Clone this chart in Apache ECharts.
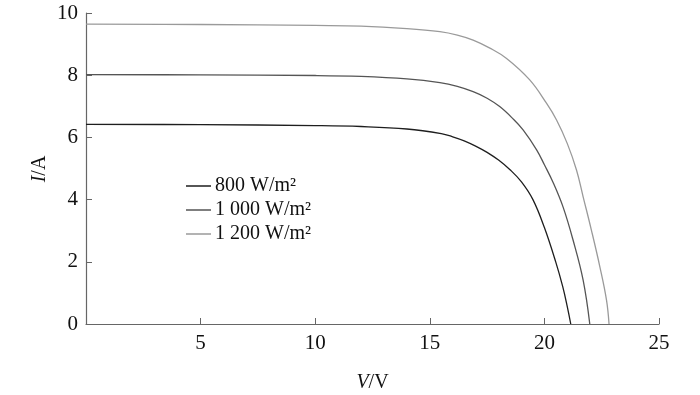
<!DOCTYPE html>
<html>
<head>
<meta charset="utf-8">
<script src="https://cdn.jsdelivr.net/npm/echarts@6/dist/echarts.min.js"></script>
<style>html,body{margin:0;padding:0;background:#fff}#c{width:700px;height:395px}</style>
</head>
<body>
<div id="c"></div>
<script>
var seriesNames = ['800 W/m²', '1 000 W/m²', '1 200 W/m²'];
var v800 = [0, 5, 10, 12, 14, 15.5, 16.0, 16.5, 17.0, 17.5, 18.0, 18.5, 19.0, 19.5, 20.0, 20.5, 20.8, 21.0, 21.15];
var i800 = [6.42, 6.41, 6.38, 6.35, 6.27, 6.12, 6.02, 5.89, 5.72, 5.52, 5.27, 4.96, 4.57, 4.0, 3.1, 1.98, 1.2, 0.55, 0];
var v1000 = [0, 5, 10, 12, 14, 15.44, 16.2, 16.89, 17.5, 18.05, 18.6, 19.07, 19.66, 20.0, 20.38, 20.82, 21.25, 21.69, 21.98];
var i1000 = [8.02, 8.01, 7.99, 7.96, 7.88, 7.76, 7.64, 7.47, 7.26, 6.99, 6.62, 6.24, 5.6, 5.12, 4.55, 3.75, 2.7, 1.41, 0];
var v1200 = [0, 5, 10, 12, 14, 15.44, 16.2, 16.89, 17.6, 18.35, 19.36, 20.09, 20.53, 21.0, 21.4, 21.69, 22.05, 22.42, 22.71, 22.82];
var i1200 = [9.64, 9.63, 9.6, 9.58, 9.5, 9.4, 9.29, 9.13, 8.88, 8.54, 7.85, 7.1, 6.56, 5.8, 4.95, 4.09, 3.02, 1.84, 0.77, 0];
var xTicks = [0, 5, 10, 15, 20, 25];
var yTicks = [0, 2, 4, 6, 8, 10];
var yTitle = '{i|I}/A';
var xTitle = '{i|V}/V';

function pairs(v, i) { return v.map(function (x, k) { return [x, i[k]]; }); }
var colors = ['#1e1e1e', '#555555', '#9a9a9a'];
var dataSets = [pairs(v800, i800), pairs(v1000, i1000), pairs(v1200, i1200)];
var font = 'Liberation Serif';
var richItalic = {i: {fontFamily: font, fontSize: 20, fontStyle: 'italic', fill: '#111', color: '#111'}};

var chart = echarts.init(document.getElementById('c'), null, {renderer: 'canvas'});
chart.setOption({
  animation: false,
  backgroundColor: '#fff',
  grid: {left: 86, right: 41, top: 13, bottom: 71, containLabel: false, outerBoundsMode: 'none'},
  legend: {
    orient: 'vertical',
    left: 181, top: 171,
    itemWidth: 25, itemHeight: 1.5, itemGap: 4,
    icon: 'rect',
    textStyle: {fontFamily: font, fontSize: 20, lineHeight: 20, color: '#111', padding: [0, 0, 0, -1]},
    data: seriesNames
  },
  graphic: [{
    type: 'text', x: 40, y: 169, rotation: Math.PI / 2,
    style: {text: yTitle, fontFamily: font, fontSize: 20, fill: '#111',
      align: 'center', verticalAlign: 'middle', rich: richItalic}
  }],
  xAxis: {
    type: 'value', min: xTicks[0], max: xTicks[xTicks.length - 1], interval: 5,
    name: xTitle, nameLocation: 'middle', nameGap: 49,
    nameTextStyle: {fontFamily: font, fontSize: 20, color: '#111', rich: richItalic},
    axisLine: {lineStyle: {color: '#666', width: 1.2}},
    axisTick: {inside: true, length: 6, lineStyle: {color: '#666'}},
    axisLabel: {showMinLabel: false, margin: 9, fontFamily: font, fontSize: 21, color: '#111'},
    splitLine: {show: false}
  },
  yAxis: {
    type: 'value', min: yTicks[0], max: yTicks[yTicks.length - 1], interval: 2,
    axisLine: {show: true, lineStyle: {color: '#666', width: 1.2}},
    axisTick: {show: true, inside: true, length: 6, lineStyle: {color: '#666'}},
    axisLabel: {margin: 8, fontFamily: font, fontSize: 21, color: '#111'},
    splitLine: {show: false}
  },
  series: seriesNames.map(function (n, k) {
    return {
      name: n, type: 'line', data: dataSets[k],
      showSymbol: false, symbol: 'none', smooth: 0.4,
      lineStyle: {color: colors[k], width: 1.3},
      itemStyle: {color: colors[k]}
    };
  })
});
</script>
</body>
</html>
